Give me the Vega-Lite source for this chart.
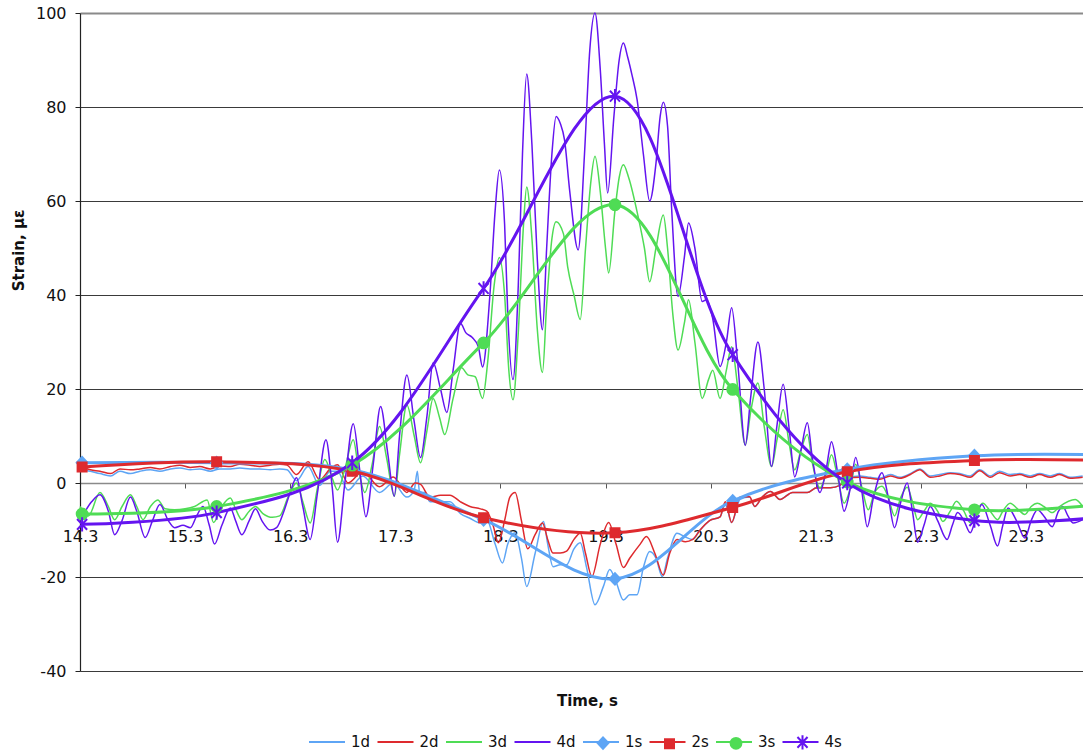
{
  "$schema": "https://vega.github.io/schema/vega-lite/v6.json",
  "autosize": {"type": "none"},
  "padding": {"left": 80, "top": 13, "right": 0, "bottom": 85},
  "width": 1003,
  "height": 658,
  "background": "white",
  "config": {"view": {"stroke": null}, "font": "DejaVu Sans"},
  "datasets": {
    "d": [
      {"s":"1d","t":14.30,"v":3},{"s":"1d","t":14.40,"v":2.5},{"s":"1d","t":14.49,"v":2},{"s":"1d","t":14.59,"v":1.5},{"s":"1d","t":14.68,"v":2.5},{"s":"1d","t":14.78,"v":2},{"s":"1d","t":14.87,"v":2.5},{"s":"1d","t":14.97,"v":2.8},{"s":"1d","t":15.06,"v":2.5},{"s":"1d","t":15.16,"v":3},{"s":"1d","t":15.25,"v":3.2},{"s":"1d","t":15.35,"v":2.8},{"s":"1d","t":15.44,"v":3},{"s":"1d","t":15.54,"v":2.5},{"s":"1d","t":15.63,"v":3},{"s":"1d","t":15.73,"v":3},{"s":"1d","t":15.82,"v":3.2},{"s":"1d","t":15.92,"v":3},{"s":"1d","t":16.01,"v":3},{"s":"1d","t":16.11,"v":2.8},{"s":"1d","t":16.20,"v":3},{"s":"1d","t":16.27,"v":2.8},{"s":"1d","t":16.36,"v":0.5},{"s":"1d","t":16.47,"v":3.5},{"s":"1d","t":16.58,"v":-0.5},{"s":"1d","t":16.68,"v":2.5},{"s":"1d","t":16.75,"v":2.5},{"s":"1d","t":16.85,"v":-1.5},{"s":"1d","t":16.99,"v":1.5},{"s":"1d","t":17.15,"v":-2},{"s":"1d","t":17.28,"v":0},{"s":"1d","t":17.41,"v":-3},{"s":"1d","t":17.48,"v":-1.5},{"s":"1d","t":17.51,"v":2.5},{"s":"1d","t":17.53,"v":-2},{"s":"1d","t":17.58,"v":-2},{"s":"1d","t":17.63,"v":-4},{"s":"1d","t":17.73,"v":-4},{"s":"1d","t":17.82,"v":-4},{"s":"1d","t":17.92,"v":-6.5},{"s":"1d","t":18.01,"v":-7.5},{"s":"1d","t":18.11,"v":-8.5},{"s":"1d","t":18.17,"v":-7.8},{"s":"1d","t":18.25,"v":-13},{"s":"1d","t":18.32,"v":-17},{"s":"1d","t":18.37,"v":-13},{"s":"1d","t":18.44,"v":-10.6},{"s":"1d","t":18.50,"v":-16},{"s":"1d","t":18.55,"v":-22},{"s":"1d","t":18.63,"v":-15},{"s":"1d","t":18.71,"v":-8.2},{"s":"1d","t":18.75,"v":-13},{"s":"1d","t":18.80,"v":-17.8},{"s":"1d","t":18.87,"v":-17.4},{"s":"1d","t":18.93,"v":-17.4},{"s":"1d","t":19.00,"v":-14},{"s":"1d","t":19.06,"v":-12.7},{"s":"1d","t":19.12,"v":-18},{"s":"1d","t":19.20,"v":-25.9},{"s":"1d","t":19.28,"v":-22},{"s":"1d","t":19.34,"v":-18.4},{"s":"1d","t":19.40,"v":-21},{"s":"1d","t":19.47,"v":-24.9},{"s":"1d","t":19.53,"v":-23.8},{"s":"1d","t":19.60,"v":-23.8},{"s":"1d","t":19.66,"v":-18},{"s":"1d","t":19.72,"v":-14.6},{"s":"1d","t":19.78,"v":-16},{"s":"1d","t":19.84,"v":-19.9},{"s":"1d","t":19.89,"v":-16},{"s":"1d","t":19.98,"v":-10.7},{"s":"1d","t":20.06,"v":-11.5},{"s":"1d","t":20.13,"v":-12},{"s":"1d","t":20.20,"v":-10},{"s":"1d","t":20.29,"v":-8},{"s":"1d","t":20.39,"v":-7.2},{"s":"1d","t":20.44,"v":-4.5},{"s":"1d","t":20.50,"v":-8.4},{"s":"1d","t":20.58,"v":-3.5},{"s":"1d","t":20.67,"v":-3},{"s":"1d","t":20.72,"v":-5},{"s":"1d","t":20.79,"v":-3},{"s":"1d","t":20.87,"v":-1.8},{"s":"1d","t":20.96,"v":-3.5},{"s":"1d","t":21.08,"v":-2},{"s":"1d","t":21.22,"v":-2},{"s":"1d","t":21.31,"v":-1},{"s":"1d","t":21.44,"v":-1},{"s":"1d","t":21.53,"v":-0.5},{"s":"1d","t":21.60,"v":1},{"s":"1d","t":21.72,"v":1.5},{"s":"1d","t":21.82,"v":1.2},{"s":"1d","t":21.91,"v":1},{"s":"1d","t":22.01,"v":1.8},{"s":"1d","t":22.10,"v":1.2},{"s":"1d","t":22.20,"v":2},{"s":"1d","t":22.29,"v":3},{"s":"1d","t":22.39,"v":1.5},{"s":"1d","t":22.48,"v":1.8},{"s":"1d","t":22.58,"v":2.2},{"s":"1d","t":22.67,"v":2},{"s":"1d","t":22.77,"v":1.5},{"s":"1d","t":22.86,"v":2.8},{"s":"1d","t":22.96,"v":1.5},{"s":"1d","t":23.05,"v":2.5},{"s":"1d","t":23.15,"v":1.8},{"s":"1d","t":23.24,"v":2},{"s":"1d","t":23.34,"v":1.5},{"s":"1d","t":23.43,"v":2},{"s":"1d","t":23.53,"v":1.5},{"s":"1d","t":23.62,"v":2},{"s":"1d","t":23.72,"v":1.2},{"s":"1d","t":23.84,"v":1.5},

      {"s":"2d","t":14.30,"v":3.5},{"s":"2d","t":14.40,"v":2.8},{"s":"2d","t":14.49,"v":2.5},{"s":"2d","t":14.59,"v":2},{"s":"2d","t":14.68,"v":3},{"s":"2d","t":14.78,"v":2.8},{"s":"2d","t":14.87,"v":3},{"s":"2d","t":14.97,"v":3.3},{"s":"2d","t":15.06,"v":3},{"s":"2d","t":15.16,"v":3.5},{"s":"2d","t":15.25,"v":3.8},{"s":"2d","t":15.35,"v":3.3},{"s":"2d","t":15.44,"v":3.5},{"s":"2d","t":15.54,"v":3},{"s":"2d","t":15.63,"v":3.6},{"s":"2d","t":15.73,"v":3.5},{"s":"2d","t":15.82,"v":4},{"s":"2d","t":15.92,"v":3.8},{"s":"2d","t":16.01,"v":3.5},{"s":"2d","t":16.11,"v":3.8},{"s":"2d","t":16.20,"v":4},{"s":"2d","t":16.27,"v":3.8},{"s":"2d","t":16.36,"v":1.8},{"s":"2d","t":16.47,"v":4.5},{"s":"2d","t":16.58,"v":0.7},{"s":"2d","t":16.68,"v":3},{"s":"2d","t":16.75,"v":3.9},{"s":"2d","t":16.85,"v":0},{"s":"2d","t":16.99,"v":2.4},{"s":"2d","t":17.15,"v":-0.8},{"s":"2d","t":17.28,"v":1.3},{"s":"2d","t":17.41,"v":-2},{"s":"2d","t":17.49,"v":0},{"s":"2d","t":17.54,"v":-0.3},{"s":"2d","t":17.63,"v":-3},{"s":"2d","t":17.73,"v":-2.6},{"s":"2d","t":17.82,"v":-2.6},{"s":"2d","t":17.92,"v":-4},{"s":"2d","t":18.01,"v":-5},{"s":"2d","t":18.11,"v":-5.5},{"s":"2d","t":18.17,"v":-6},{"s":"2d","t":18.23,"v":-9},{"s":"2d","t":18.28,"v":-12.7},{"s":"2d","t":18.34,"v":-8},{"s":"2d","t":18.39,"v":-3},{"s":"2d","t":18.44,"v":-2},{"s":"2d","t":18.50,"v":-8},{"s":"2d","t":18.56,"v":-14},{"s":"2d","t":18.63,"v":-11},{"s":"2d","t":18.70,"v":-8.5},{"s":"2d","t":18.75,"v":-12},{"s":"2d","t":18.80,"v":-14.9},{"s":"2d","t":18.87,"v":-14.9},{"s":"2d","t":18.93,"v":-14.5},{"s":"2d","t":19.00,"v":-12},{"s":"2d","t":19.06,"v":-10.7},{"s":"2d","t":19.11,"v":-15},{"s":"2d","t":19.17,"v":-19.9},{"s":"2d","t":19.25,"v":-13},{"s":"2d","t":19.33,"v":-8.4},{"s":"2d","t":19.40,"v":-13},{"s":"2d","t":19.47,"v":-18},{"s":"2d","t":19.53,"v":-16},{"s":"2d","t":19.63,"v":-13},{"s":"2d","t":19.69,"v":-11.4},{"s":"2d","t":19.77,"v":-15},{"s":"2d","t":19.85,"v":-19.6},{"s":"2d","t":19.91,"v":-15},{"s":"2d","t":19.98,"v":-12},{"s":"2d","t":20.06,"v":-12.5},{"s":"2d","t":20.13,"v":-12},{"s":"2d","t":20.20,"v":-10},{"s":"2d","t":20.29,"v":-8},{"s":"2d","t":20.39,"v":-7.2},{"s":"2d","t":20.44,"v":-4},{"s":"2d","t":20.50,"v":-8.4},{"s":"2d","t":20.58,"v":-3},{"s":"2d","t":20.67,"v":-2.9},{"s":"2d","t":20.72,"v":-5},{"s":"2d","t":20.79,"v":-3},{"s":"2d","t":20.87,"v":-1.8},{"s":"2d","t":20.96,"v":-3.5},{"s":"2d","t":21.08,"v":-2},{"s":"2d","t":21.22,"v":-2},{"s":"2d","t":21.31,"v":-1},{"s":"2d","t":21.44,"v":-1},{"s":"2d","t":21.53,"v":-0.5},{"s":"2d","t":21.60,"v":1},{"s":"2d","t":21.72,"v":1.2},{"s":"2d","t":21.82,"v":1},{"s":"2d","t":21.91,"v":0.8},{"s":"2d","t":22.01,"v":1.5},{"s":"2d","t":22.10,"v":1},{"s":"2d","t":22.20,"v":1.8},{"s":"2d","t":22.29,"v":2.8},{"s":"2d","t":22.39,"v":1.2},{"s":"2d","t":22.48,"v":1.5},{"s":"2d","t":22.58,"v":2},{"s":"2d","t":22.67,"v":1.8},{"s":"2d","t":22.77,"v":1.2},{"s":"2d","t":22.86,"v":2.6},{"s":"2d","t":22.96,"v":1.2},{"s":"2d","t":23.05,"v":2.2},{"s":"2d","t":23.15,"v":1.5},{"s":"2d","t":23.24,"v":1.8},{"s":"2d","t":23.34,"v":1.2},{"s":"2d","t":23.43,"v":1.8},{"s":"2d","t":23.53,"v":1.2},{"s":"2d","t":23.62,"v":1.8},{"s":"2d","t":23.72,"v":1},{"s":"2d","t":23.84,"v":1.2},

      {"s":"3d","t":14.30,"v":-5},{"s":"3d","t":14.38,"v":-7},{"s":"3d","t":14.49,"v":-2},{"s":"3d","t":14.57,"v":-5},{"s":"3d","t":14.63,"v":-7.8},{"s":"3d","t":14.70,"v":-5},{"s":"3d","t":14.78,"v":-2.5},{"s":"3d","t":14.84,"v":-5},{"s":"3d","t":14.90,"v":-7.8},{"s":"3d","t":14.97,"v":-5},{"s":"3d","t":15.04,"v":-3.6},{"s":"3d","t":15.11,"v":-5.5},{"s":"3d","t":15.20,"v":-5.7},{"s":"3d","t":15.30,"v":-5.5},{"s":"3d","t":15.39,"v":-5},{"s":"3d","t":15.51,"v":-3.6},{"s":"3d","t":15.57,"v":-8.4},{"s":"3d","t":15.65,"v":-5},{"s":"3d","t":15.73,"v":-3.2},{"s":"3d","t":15.78,"v":-5.5},{"s":"3d","t":15.84,"v":-7.8},{"s":"3d","t":15.91,"v":-6},{"s":"3d","t":15.97,"v":-5},{"s":"3d","t":16.04,"v":-6.5},{"s":"3d","t":16.13,"v":-7.3},{"s":"3d","t":16.20,"v":-7},{"s":"3d","t":16.28,"v":-3},{"s":"3d","t":16.36,"v":0},{"s":"3d","t":16.42,"v":-4},{"s":"3d","t":16.49,"v":-8.5},{"s":"3d","t":16.56,"v":-1},{"s":"3d","t":16.63,"v":5},{"s":"3d","t":16.70,"v":1},{"s":"3d","t":16.75,"v":-1.5},{"s":"3d","t":16.82,"v":3},{"s":"3d","t":16.90,"v":9.2},{"s":"3d","t":16.95,"v":3},{"s":"3d","t":17.01,"v":-2},{"s":"3d","t":17.08,"v":4},{"s":"3d","t":17.15,"v":12},{"s":"3d","t":17.22,"v":5},{"s":"3d","t":17.29,"v":-2.8},{"s":"3d","t":17.34,"v":6},{"s":"3d","t":17.41,"v":16.6},{"s":"3d","t":17.48,"v":10},{"s":"3d","t":17.54,"v":4.3},{"s":"3d","t":17.60,"v":11},{"s":"3d","t":17.66,"v":18},{"s":"3d","t":17.72,"v":14},{"s":"3d","t":17.77,"v":10.3},{"s":"3d","t":17.85,"v":18},{"s":"3d","t":17.93,"v":24.5},{"s":"3d","t":17.99,"v":23},{"s":"3d","t":18.06,"v":22.6},{"s":"3d","t":18.13,"v":18},{"s":"3d","t":18.18,"v":26},{"s":"3d","t":18.24,"v":42},{"s":"3d","t":18.29,"v":48},{"s":"3d","t":18.34,"v":40},{"s":"3d","t":18.38,"v":24},{"s":"3d","t":18.42,"v":17.7},{"s":"3d","t":18.47,"v":32},{"s":"3d","t":18.52,"v":55},{"s":"3d","t":18.55,"v":63},{"s":"3d","t":18.60,"v":52},{"s":"3d","t":18.65,"v":33},{"s":"3d","t":18.70,"v":23.5},{"s":"3d","t":18.74,"v":38},{"s":"3d","t":18.79,"v":52},{"s":"3d","t":18.83,"v":55.6},{"s":"3d","t":18.90,"v":53},{"s":"3d","t":18.94,"v":46},{"s":"3d","t":19.00,"v":40},{"s":"3d","t":19.06,"v":34.8},{"s":"3d","t":19.11,"v":50},{"s":"3d","t":19.16,"v":64},{"s":"3d","t":19.20,"v":69.5},{"s":"3d","t":19.25,"v":62},{"s":"3d","t":19.30,"v":50},{"s":"3d","t":19.33,"v":44.7},{"s":"3d","t":19.39,"v":58},{"s":"3d","t":19.43,"v":65},{"s":"3d","t":19.47,"v":67.7},{"s":"3d","t":19.52,"v":65},{"s":"3d","t":19.61,"v":56.7},{"s":"3d","t":19.67,"v":50},{"s":"3d","t":19.72,"v":42.8},{"s":"3d","t":19.78,"v":50},{"s":"3d","t":19.85,"v":57},{"s":"3d","t":19.89,"v":50},{"s":"3d","t":19.94,"v":36},{"s":"3d","t":19.99,"v":28.3},{"s":"3d","t":20.05,"v":34},{"s":"3d","t":20.09,"v":39},{"s":"3d","t":20.15,"v":30},{"s":"3d","t":20.22,"v":18},{"s":"3d","t":20.28,"v":22},{"s":"3d","t":20.32,"v":24},{"s":"3d","t":20.39,"v":18},{"s":"3d","t":20.45,"v":24},{"s":"3d","t":20.50,"v":29},{"s":"3d","t":20.56,"v":20},{"s":"3d","t":20.63,"v":8.1},{"s":"3d","t":20.68,"v":15},{"s":"3d","t":20.75,"v":21.3},{"s":"3d","t":20.81,"v":12},{"s":"3d","t":20.88,"v":3.5},{"s":"3d","t":20.93,"v":9},{"s":"3d","t":20.99,"v":15.6},{"s":"3d","t":21.05,"v":8},{"s":"3d","t":21.10,"v":2.8},{"s":"3d","t":21.16,"v":7},{"s":"3d","t":21.22,"v":10.3},{"s":"3d","t":21.27,"v":4},{"s":"3d","t":21.34,"v":-1},{"s":"3d","t":21.40,"v":2},{"s":"3d","t":21.45,"v":6},{"s":"3d","t":21.51,"v":1},{"s":"3d","t":21.57,"v":-4.3},{"s":"3d","t":21.63,"v":-1},{"s":"3d","t":21.68,"v":4},{"s":"3d","t":21.74,"v":-1},{"s":"3d","t":21.80,"v":-5.7},{"s":"3d","t":21.86,"v":-2},{"s":"3d","t":21.93,"v":-0.7},{"s":"3d","t":21.99,"v":-3},{"s":"3d","t":22.05,"v":-7},{"s":"3d","t":22.11,"v":-3},{"s":"3d","t":22.17,"v":-0.9},{"s":"3d","t":22.22,"v":-4},{"s":"3d","t":22.27,"v":-7.8},{"s":"3d","t":22.33,"v":-6},{"s":"3d","t":22.39,"v":-4.3},{"s":"3d","t":22.46,"v":-6},{"s":"3d","t":22.51,"v":-8.2},{"s":"3d","t":22.58,"v":-6},{"s":"3d","t":22.64,"v":-3.9},{"s":"3d","t":22.71,"v":-6},{"s":"3d","t":22.77,"v":-8.4},{"s":"3d","t":22.83,"v":-6},{"s":"3d","t":22.89,"v":-4.3},{"s":"3d","t":22.96,"v":-6},{"s":"3d","t":23.03,"v":-7.8},{"s":"3d","t":23.08,"v":-6},{"s":"3d","t":23.15,"v":-4.3},{"s":"3d","t":23.22,"v":-5.5},{"s":"3d","t":23.29,"v":-6.7},{"s":"3d","t":23.35,"v":-5},{"s":"3d","t":23.41,"v":-4.3},{"s":"3d","t":23.47,"v":-5},{"s":"3d","t":23.55,"v":-6.3},{"s":"3d","t":23.62,"v":-5},{"s":"3d","t":23.77,"v":-3.5},{"s":"3d","t":23.84,"v":-5},

      {"s":"4d","t":14.30,"v":-8},{"s":"4d","t":14.41,"v":-4},{"s":"4d","t":14.49,"v":-2.5},{"s":"4d","t":14.57,"v":-6},{"s":"4d","t":14.63,"v":-11},{"s":"4d","t":14.70,"v":-8},{"s":"4d","t":14.78,"v":-3},{"s":"4d","t":14.84,"v":-6},{"s":"4d","t":14.92,"v":-11.6},{"s":"4d","t":14.99,"v":-8},{"s":"4d","t":15.06,"v":-4.6},{"s":"4d","t":15.14,"v":-8},{"s":"4d","t":15.20,"v":-9.5},{"s":"4d","t":15.28,"v":-9},{"s":"4d","t":15.35,"v":-9.5},{"s":"4d","t":15.41,"v":-7},{"s":"4d","t":15.47,"v":-5},{"s":"4d","t":15.53,"v":-9},{"s":"4d","t":15.58,"v":-13},{"s":"4d","t":15.65,"v":-9},{"s":"4d","t":15.73,"v":-5.3},{"s":"4d","t":15.78,"v":-8},{"s":"4d","t":15.84,"v":-11},{"s":"4d","t":15.91,"v":-8},{"s":"4d","t":15.97,"v":-5.5},{"s":"4d","t":16.03,"v":-8},{"s":"4d","t":16.11,"v":-10},{"s":"4d","t":16.17,"v":-9.5},{"s":"4d","t":16.24,"v":-6},{"s":"4d","t":16.30,"v":-2},{"s":"4d","t":16.36,"v":1.1},{"s":"4d","t":16.42,"v":-5},{"s":"4d","t":16.49,"v":-12},{"s":"4d","t":16.56,"v":-2},{"s":"4d","t":16.64,"v":9.2},{"s":"4d","t":16.70,"v":-1},{"s":"4d","t":16.75,"v":-12.6},{"s":"4d","t":16.82,"v":0},{"s":"4d","t":16.90,"v":12.6},{"s":"4d","t":16.96,"v":3},{"s":"4d","t":17.02,"v":-7.2},{"s":"4d","t":17.09,"v":4},{"s":"4d","t":17.16,"v":16.3},{"s":"4d","t":17.23,"v":6},{"s":"4d","t":17.29,"v":-2.8},{"s":"4d","t":17.34,"v":10},{"s":"4d","t":17.41,"v":23},{"s":"4d","t":17.48,"v":13},{"s":"4d","t":17.54,"v":5.4},{"s":"4d","t":17.60,"v":14},{"s":"4d","t":17.66,"v":25.6},{"s":"4d","t":17.73,"v":20},{"s":"4d","t":17.79,"v":15},{"s":"4d","t":17.85,"v":24},{"s":"4d","t":17.92,"v":34},{"s":"4d","t":17.97,"v":32},{"s":"4d","t":18.03,"v":31},{"s":"4d","t":18.09,"v":29},{"s":"4d","t":18.13,"v":24.7},{"s":"4d","t":18.20,"v":40},{"s":"4d","t":18.25,"v":58},{"s":"4d","t":18.29,"v":66.6},{"s":"4d","t":18.34,"v":55},{"s":"4d","t":18.37,"v":36},{"s":"4d","t":18.42,"v":22},{"s":"4d","t":18.47,"v":42},{"s":"4d","t":18.51,"v":70},{"s":"4d","t":18.55,"v":87},{"s":"4d","t":18.60,"v":72},{"s":"4d","t":18.65,"v":48},{"s":"4d","t":18.70,"v":32.6},{"s":"4d","t":18.74,"v":50},{"s":"4d","t":18.79,"v":70},{"s":"4d","t":18.83,"v":78},{"s":"4d","t":18.87,"v":76.5},{"s":"4d","t":18.91,"v":73},{"s":"4d","t":18.96,"v":62},{"s":"4d","t":19.04,"v":49.6},{"s":"4d","t":19.10,"v":70},{"s":"4d","t":19.15,"v":92},{"s":"4d","t":19.20,"v":100},{"s":"4d","t":19.25,"v":88},{"s":"4d","t":19.29,"v":72},{"s":"4d","t":19.32,"v":61.7},{"s":"4d","t":19.38,"v":78},{"s":"4d","t":19.43,"v":90},{"s":"4d","t":19.47,"v":93.6},{"s":"4d","t":19.51,"v":90.7},{"s":"4d","t":19.55,"v":87},{"s":"4d","t":19.60,"v":81.6},{"s":"4d","t":19.66,"v":70},{"s":"4d","t":19.72,"v":60},{"s":"4d","t":19.78,"v":68},{"s":"4d","t":19.82,"v":78},{"s":"4d","t":19.85,"v":81},{"s":"4d","t":19.89,"v":76},{"s":"4d","t":19.93,"v":58},{"s":"4d","t":19.99,"v":39.7},{"s":"4d","t":20.05,"v":48},{"s":"4d","t":20.09,"v":55.3},{"s":"4d","t":20.15,"v":50},{"s":"4d","t":20.22,"v":38.6},{"s":"4d","t":20.26,"v":39},{"s":"4d","t":20.32,"v":35},{"s":"4d","t":20.39,"v":24.8},{"s":"4d","t":20.45,"v":30},{"s":"4d","t":20.50,"v":37.3},{"s":"4d","t":20.56,"v":25},{"s":"4d","t":20.63,"v":8},{"s":"4d","t":20.68,"v":18},{"s":"4d","t":20.75,"v":30},{"s":"4d","t":20.81,"v":20},{"s":"4d","t":20.88,"v":3.5},{"s":"4d","t":20.93,"v":12},{"s":"4d","t":20.99,"v":21},{"s":"4d","t":21.05,"v":11},{"s":"4d","t":21.10,"v":1.3},{"s":"4d","t":21.16,"v":7},{"s":"4d","t":21.22,"v":12.8},{"s":"4d","t":21.27,"v":5},{"s":"4d","t":21.34,"v":-2},{"s":"4d","t":21.40,"v":3},{"s":"4d","t":21.45,"v":8.8},{"s":"4d","t":21.51,"v":2},{"s":"4d","t":21.57,"v":-6},{"s":"4d","t":21.63,"v":-1},{"s":"4d","t":21.68,"v":5.4},{"s":"4d","t":21.74,"v":-2},{"s":"4d","t":21.79,"v":-9.3},{"s":"4d","t":21.85,"v":-3},{"s":"4d","t":21.93,"v":2.2},{"s":"4d","t":21.99,"v":-3},{"s":"4d","t":22.05,"v":-9.5},{"s":"4d","t":22.11,"v":-4},{"s":"4d","t":22.17,"v":0},{"s":"4d","t":22.22,"v":-6},{"s":"4d","t":22.27,"v":-12.6},{"s":"4d","t":22.33,"v":-9},{"s":"4d","t":22.39,"v":-5},{"s":"4d","t":22.46,"v":-8},{"s":"4d","t":22.55,"v":-12},{"s":"4d","t":22.60,"v":-9},{"s":"4d","t":22.65,"v":-6.3},{"s":"4d","t":22.71,"v":-8},{"s":"4d","t":22.77,"v":-10.6},{"s":"4d","t":22.83,"v":-7},{"s":"4d","t":22.88,"v":-4.6},{"s":"4d","t":22.96,"v":-9},{"s":"4d","t":23.03,"v":-13.4},{"s":"4d","t":23.08,"v":-9},{"s":"4d","t":23.13,"v":-5.3},{"s":"4d","t":23.21,"v":-8},{"s":"4d","t":23.29,"v":-11.7},{"s":"4d","t":23.35,"v":-8},{"s":"4d","t":23.41,"v":-5.7},{"s":"4d","t":23.47,"v":-7},{"s":"4d","t":23.55,"v":-9.3},{"s":"4d","t":23.61,"v":-6},{"s":"4d","t":23.65,"v":-5},{"s":"4d","t":23.70,"v":-7},{"s":"4d","t":23.75,"v":-8.5},{"s":"4d","t":23.84,"v":-7.8}
    ],
    "s": [
      {"s":"1s","t":14.32,"v":4.3},{"s":"1s","t":15.60,"v":4.3},{"s":"1s","t":16.89,"v":2.8},{"s":"1s","t":18.14,"v":-7.8},{"s":"1s","t":19.39,"v":-20.4},{"s":"1s","t":20.51,"v":-3.8},{"s":"1s","t":21.60,"v":2.9},{"s":"1s","t":22.81,"v":5.8},{"s":"1s","t":24.05,"v":6.0},
      {"s":"2s","t":14.32,"v":3.4},{"s":"2s","t":15.60,"v":4.5},{"s":"2s","t":16.89,"v":2.5},{"s":"2s","t":18.14,"v":-7.4},{"s":"2s","t":19.39,"v":-10.6},{"s":"2s","t":20.51,"v":-5.2},{"s":"2s","t":21.60,"v":2.4},{"s":"2s","t":22.81,"v":4.8},{"s":"2s","t":24.05,"v":4.8},
      {"s":"3s","t":14.32,"v":-6.6},{"s":"3s","t":15.60,"v":-5.0},{"s":"3s","t":16.89,"v":3.8},{"s":"3s","t":18.14,"v":29.8},{"s":"3s","t":19.39,"v":59.2},{"s":"3s","t":20.51,"v":19.9},{"s":"3s","t":21.60,"v":0.2},{"s":"3s","t":22.81,"v":-5.7},{"s":"3s","t":24.05,"v":-4.5},
      {"s":"4s","t":14.32,"v":-8.8},{"s":"4s","t":15.60,"v":-6.3},{"s":"4s","t":16.89,"v":4.3},{"s":"4s","t":18.14,"v":41.4},{"s":"4s","t":19.39,"v":82.3},{"s":"4s","t":20.51,"v":27.3},{"s":"4s","t":21.60,"v":0},{"s":"4s","t":22.81,"v":-8.0},{"s":"4s","t":24.05,"v":-7.2}
    ]
  },
  "encoding": {
    "x": {
      "field": "t", "type": "quantitative",
      "scale": {"domain": [14.3, 23.843], "nice": false, "zero": false},
      "axis": {
        "values": [14.3, 15.3, 16.3, 17.3, 18.3, 19.3, 20.3, 21.3, 22.3, 23.3],
        "format": ".1f", "offset": -188, "grid": false,
        "domainColor": "#8a8a8a", "domainWidth": 1.5,
        "tickColor": "#555", "tickSize": 5,
        "labelFont": "DejaVu Sans", "labelFontSize": 16, "labelColor": "#111",
        "labelBaseline": "top", "labelPadding": 40,
        "labelFlush": false, "labelOverlap": false, "labelBound": false,
        "title": "Time, s", "titleFont": "DejaVu Sans", "titleFontSize": 15, "titleFontWeight": "bold",
        "titleColor": "#111", "titleX": 507, "titleY": 217, "titleBaseline": "middle", "titleAlign": "center"
      }
    },
    "y": {
      "field": "v", "type": "quantitative",
      "scale": {"domain": [-40, 100], "nice": false, "zero": false},
      "axis": {
        "values": [-40, -20, 0, 20, 40, 60, 80, 100],
        "labelExpr": "replace(datum.label, '−', '-')",
        "grid": true,
        "gridColor": {"condition": {"test": "datum.value === 100 || datum.value === 0", "value": "#8a8a8a"}, "value": "#3a3a3a"},
        "gridWidth": {"condition": {"test": "datum.value === 100", "value": 2}, "value": 1},
        "domainColor": "#222", "domainWidth": 1.2,
        "tickColor": "#222", "tickSize": 5,
        "labelFont": "DejaVu Sans", "labelFontSize": 16, "labelColor": "#111", "labelPadding": 9,
        "labelFlush": false, "labelOverlap": false,
        "title": "Strain, µε", "titleFont": "DejaVu Sans", "titleFontSize": 15, "titleFontWeight": "bold",
        "titleColor": "#111", "titleX": -62, "titleY": 237, "titleAngle": 270, "titleBaseline": "middle", "titleAlign": "center"
      }
    },
    "color": {
      "field": "s", "type": "nominal",
      "scale": {
        "domain": ["1d", "2d", "3d", "4d", "1s", "2s", "3s", "4s"],
        "range": ["#5EA5F5", "#DE2A2E", "#4FDC55", "#6414F0", "#5EA5F5", "#DE2A2E", "#4FDC55", "#6414F0"]
      },
      "legend": {
        "orient": "none", "legendX": 228, "legendY": 710, "direction": "horizontal", "title": null,
        "symbolSize": 1296, "symbolType": "stroke", "symbolStrokeWidth": 2,
        "labelFont": "DejaVu Sans", "labelFontSize": 15, "labelColor": "#111", "labelOffset": 5,
        "columnPadding": 2.5, "padding": 0, "rowPadding": 0
      }
    }
  },
  "layer": [
    {
      "data": {"name": "d"},
      "mark": {"type": "line", "strokeWidth": 1.5, "interpolate": "monotone"}
    },
    {
      "data": {"name": "s"},
      "mark": {"type": "line", "strokeWidth": 3, "interpolate": "catmull-rom"}
    },
    {
      "data": {"name": "s"},
      "mark": {"type": "point", "filled": true, "size": 1296, "strokeWidth": 2, "opacity": 1},
      "encoding": {
        "shape": {
          "field": "s", "type": "nominal",
          "scale": {"domain": ["1s", "2s", "3s", "4s"], "range": ["M-1,0L-1,0M1,0L1,0M-0.3,0L0,-0.32L0.3,0L0,0.32Z", "M-1,0L-1,0M1,0L1,0M-0.25,-0.25H0.25V0.25H-0.25Z", "M-1,0L-1,0M1,0L1,0M-0.3,0A0.3,0.3,0,1,0,0.3,0A0.3,0.3,0,1,0,-0.3,0Z", "M-1,0L-1,0M1,0L1,0M-0.28,-0.3L0.28,0.3M-0.28,0.3L0.28,-0.3M0,-0.4V0.4"]},
          "legend": {
            "orient": "none", "legendX": 504, "legendY": 710, "direction": "horizontal", "title": null,
            "symbolSize": 1296, "symbolStrokeWidth": 2,
            "labelFont": "DejaVu Sans", "labelFontSize": 15, "labelOffset": 5, "labelOpacity": 0,
            "columnPadding": 2.5, "padding": 0, "rowPadding": 0
          }
        },
        "fill": {
          "field": "s", "type": "nominal",
          "scale": {"domain": ["1s", "2s", "3s", "4s"], "range": ["#5EA5F5", "#DE2A2E", "#4FDC55", "#6414F0"]},
          "legend": {
            "orient": "none", "legendX": 504, "legendY": 710, "direction": "horizontal", "title": null,
            "symbolSize": 1296, "symbolStrokeWidth": 2,
            "labelFont": "DejaVu Sans", "labelFontSize": 15, "labelOffset": 5, "labelOpacity": 0,
            "columnPadding": 2.5, "padding": 0, "rowPadding": 0
          }
        },
        "stroke": {
          "field": "s", "type": "nominal",
          "scale": {"domain": ["1s", "2s", "3s", "4s"], "range": ["#5EA5F5", "#DE2A2E", "#4FDC55", "#6414F0"]},
          "legend": {
            "orient": "none", "legendX": 504, "legendY": 710, "direction": "horizontal", "title": null,
            "symbolSize": 1296, "symbolStrokeWidth": 2,
            "labelFont": "DejaVu Sans", "labelFontSize": 15, "labelOffset": 5, "labelOpacity": 0,
            "columnPadding": 2.5, "padding": 0, "rowPadding": 0
          }
        }
      }
    }
  ]
}
